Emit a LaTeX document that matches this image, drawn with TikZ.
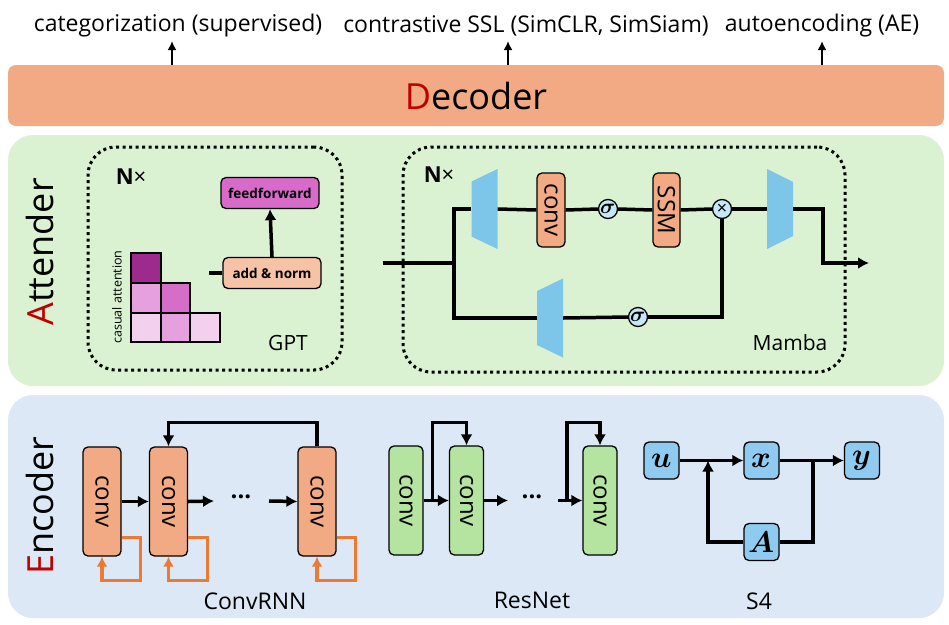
\documentclass[tikz,border=0pt]{standalone}
\usepackage{amsmath}
\usepackage{fontspec}
\usepackage{unicode-math}
\setmainfont{Open Sans}
\setmathfont{Latin Modern Math}
\usetikzlibrary{arrows.meta}
\usetikzlibrary{calc}

\definecolor{decfill}{HTML}{F2AA84}
\definecolor{attfill}{HTML}{DAF1D2}
\definecolor{encfill}{HTML}{DCE8F5}
\definecolor{dred}{HTML}{C00000}
\definecolor{resfill}{HTML}{B4E4A0}
\definecolor{trapblue}{HTML}{7DC6EA}
\definecolor{sigfill}{HTML}{C6E7F6}
\definecolor{sfill}{HTML}{8FCBF0}
\definecolor{fffill}{HTML}{D86BCA}
\definecolor{anfill}{HTML}{F7C3A6}
\definecolor{gdark}{HTML}{9F2A8E}
\definecolor{gmid}{HTML}{D66DC8}
\definecolor{glight}{HTML}{E6A0DD}
\definecolor{gpale}{HTML}{F2D0EE}
\definecolor{loopc}{HTML}{EC7A33}

\tikzset{
  panel/.style={rounded corners=25pt,inner sep=0pt},
  bigtxt/.style={font=\fontsize{36}{40}\selectfont},
  dotbox/.style={draw,line width=3pt,dash pattern=on 3pt off 3.5pt,rounded corners=28pt,minimum width=#1,inner sep=0pt},
  ln/.style={line width=3.5pt},
  arr/.style={line width=3.5pt,-{Latex[length=11pt,width=12pt]}},
  tarr/.style={line width=2.8pt,-{Latex[length=9pt,width=9pt]}},
  oarr/.style={line width=3.3pt,draw=loopc,-{Latex[length=10pt,width=11pt]}},
  convbox/.style={draw,line width=1.3pt,rounded corners=5pt,fill=decfill,minimum width=38pt,minimum height=109pt,inner sep=0pt,font=\fontsize{24}{24}\selectfont},
  resbox/.style={convbox,fill=resfill,minimum width=34pt},
  mbox/.style={convbox,minimum width=28pt,minimum height=74pt},
  circ/.style={circle,draw,line width=1.3pt,fill=sigfill,minimum size=19pt,inner sep=0pt,font=\fontsize{21}{21}\selectfont},
  sbox/.style={draw,line width=1.3pt,rounded corners=5pt,fill=sfill,minimum width=35pt,minimum height=37pt,inner sep=0pt,font=\fontsize{30}{30}\selectfont},
  gbox/.style={draw,line width=1.3pt,rounded corners=5pt,minimum width=98pt,minimum height=31pt,inner sep=0pt,font=\fontsize{13.5}{14}\selectfont\bfseries},
  cell/.style={draw,line width=1.6pt,minimum size=29.5pt,inner sep=0pt},
  lab/.style={font=\fontsize{23}{24}\selectfont},
  toplab/.style={inner sep=0pt,font=\fontsize{23}{24}\selectfont},
}

% trapezoid: name, centre, left half height, right half height
\newcommand{\trapz}[4]{%
  \node[minimum width=26pt,minimum height=20pt,inner sep=0pt] (#1) at #2 {};
  \fill[trapblue] ($(#1.center)+(-13,-#3)$) -- ($(#1.center)+(13,-#4)$) -- ($(#1.center)+(13,#4)$) -- ($(#1.center)+(-13,#3)$) -- cycle;
}

\begin{document}
\begin{tikzpicture}[x=1pt,y=-1pt]
\useasboundingbox (0,0) rectangle (949,624);

% panels
\node[panel,fill=decfill,rounded corners=8pt,minimum width=936pt,minimum height=61pt,bigtxt] (dec) at (476,95.5) {\textcolor{dred}{D}ecoder};
\node[panel,fill=attfill,minimum width=936pt,minimum height=251pt] (att) at (476,260.5) {};
\node[panel,fill=encfill,minimum width=936pt,minimum height=223pt] (enc) at (476,506.5) {};
\node[bigtxt,rotate=90] (atttxt) at (40,252) {\textcolor{dred}{A}ttender};
\node[bigtxt,rotate=90] (enctxt) at (40,506) {\textcolor{dred}{E}ncoder};

% objectives
\node[toplab] (lab1) at (178,26) {categorization (supervised)};
\node[toplab] (lab2) at (526,26) {contrastive SSL (SimCLR, SimSiam)};
\node[toplab] (lab3) at (822,26) {autoencoding (AE)};
\coordinate (o1) at (172,41);
\coordinate (o2) at (508,41);
\coordinate (o3) at (822,41);
\draw[tarr] (dec.north -| o1) -- (o1);
\draw[tarr] (dec.north -| o2) -- (o2);
\draw[tarr] (dec.north -| o3) -- (o3);

% GPT
\node[dotbox=254pt,minimum height=223pt] (gptbox) at (215,258.5) {};
\node[font=\fontsize{22}{22}\selectfont] (gptn) at (131,177) {\textbf{N}×};
\node[gbox,fill=fffill] (ff) at (270,193) {feedforward};
\node[gbox,fill=anfill] (an) at (272,273) {add \& norm};
\coordinate (anin) at (209,273);
\draw[arr] (an.north) -- (ff.south);
\draw[ln] (anin) -- (an.west);
\foreach \x/\y/\c [count=\k] in {146/268/gdark, 146/298/glight, 175.5/298/gmid, 146/327.5/gpale, 175.5/327.5/glight, 205/327.5/gpale}
  \node[cell,fill=\c] (cell\k) at (\x,\y) {};
\node[rotate=90,font=\fontsize{12.5}{13}\selectfont] (catt) at (117,297) {casual attention};
\node[font=\fontsize{21}{21}\selectfont] (gpt) at (288,343) {GPT};

% Mamba
\node[dotbox=442pt,minimum height=225pt] (mambox) at (624,259.5) {};
\node[font=\fontsize{22}{22}\selectfont] (mamn) at (439,175) {\textbf{N}×};
\trapz{t1}{(484.5,209)}{27.5}{40}
\trapz{t2}{(780,209)}{40}{27}
\trapz{t3}{(550,318)}{27}{39.5}
\node[mbox] (mconv) at (551,210) {\rotatebox{-90}{conv}};
\node[mbox,minimum width=27pt] (ssm) at (666.5,210) {\rotatebox{-90}{SSM}};
\node[circ] (sig1) at (608,209) {$\symbfit{\sigma}$};
\node[circ,font=\fontsize{18}{18}\selectfont] (mul) at (722,209) {×};
\node[circ] (sig2) at (638,317) {$\symbfit{\sigma}$};
\coordinate (min) at (383,263);
\coordinate (br) at (454,263);
\coordinate (mturn) at (823,209);
\coordinate (mout) at (869,263);
\draw[ln] (min) -- (br);
\draw[ln] (br) |- (t1.west);
\draw[ln] (t1.east) -- (mconv.west);
\draw[ln] (mconv.east) -- (sig1.west);
\draw[ln] (sig1.east) -- (ssm.west);
\draw[ln] (ssm.east) -- (mul.west);
\draw[ln] (mul.east) -- (t2.west);
\draw[arr] (t2.east) -- (mturn) |- (mout);
\draw[ln] (br) |- (t3.west);
\draw[ln] (t3.east) -- (sig2.west);
\draw[ln] (sig2.east) -| (mul.south);
\node[font=\fontsize{21}{21}\selectfont] (mamba) at (790,343) {Mamba};

% ConvRNN
\node[convbox] (r1) at (102,501.5) {\rotatebox{-90}{conv}};
\node[convbox] (r2) at (168.5,501.5) {\rotatebox{-90}{conv}};
\node[convbox] (r3) at (317,501.5) {\rotatebox{-90}{conv}};
\coordinate (rd1) at (214,501);
\coordinate (rd2) at (269,501);
\node[font=\fontsize{24}{24}\selectfont\bfseries] (rdots) at (241,497) {...};
\draw[arr] (r1.east) -- (r2.west);
\draw[arr] (r2.east) -- (rd1);
\draw[arr] (rd2) -- (r3.west);
\draw[arr] (r3.north) -- ++(0,-24) -| (r2.north);
\foreach \n in {r1,r2,r3}
  \draw[oarr] ([yshift=19pt]\n.south east) -- ++(19,0) |- ($(\n.south)+(0,24)$) -- (\n.south);
\node[lab] (crnn) at (255,601) {ConvRNN};

% ResNet
\node[resbox] (g1) at (406,500.5) {\rotatebox{-90}{conv}};
\node[resbox] (g2) at (466.5,500.5) {\rotatebox{-90}{conv}};
\node[resbox] (g3) at (600,500.5) {\rotatebox{-90}{conv}};
\coordinate (gd1) at (508,500.5);
\coordinate (gd2) at (558,500.5);
\node[font=\fontsize{24}{24}\selectfont\bfseries] (gdots) at (532,497) {...};
\draw[arr] (g1.east) -- (g2.west);
\draw[arr] (g2.east) -- (gd1);
\draw[arr] (gd2) -- (g3.west);
\draw[arr] ($(g1.east)+(9,0)$) -- ++(0,-78) -| (g2.north);
\draw[arr] ($(gd2)+(9,0)$) -- ++(0,-78) -| (g3.north);
\node[lab] (resnet) at (532,600) {ResNet};

% S4
\node[sbox] (su) at (661.5,460.5) {$\symbfit{u}$};
\node[sbox] (sx) at (761.5,460.5) {$\symbfit{x}$};
\node[sbox] (sy) at (862,460.5) {$\symbfit{y}$};
\node[sbox] (sA) at (761.5,542) {$\symbfit{A}$};
\coordinate (sj) at (813,460.5);
\coordinate (sk) at (708,460.5);
\draw[arr] (su.east) -- (sx.west);
\draw[arr] (sx.east) -- (sy.west);
\draw[ln] (sj) |- (sA.east);
\draw[arr] (sA.west) -| (sk);
\node[lab] (s4) at (759,601) {S4};
\end{tikzpicture}
\end{document}
